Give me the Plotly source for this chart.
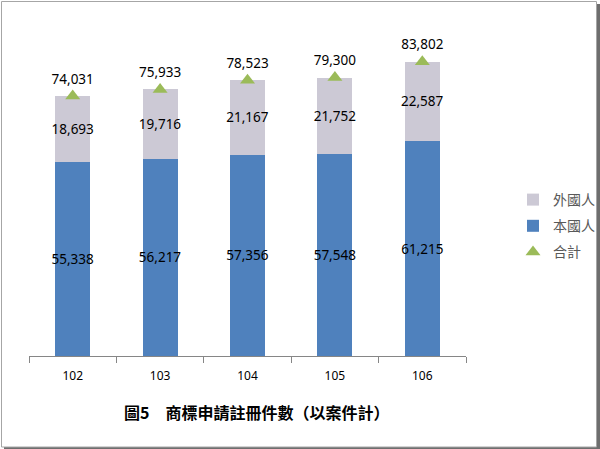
import plotly.graph_objects as go

years = ["102", "103", "104", "105", "106"]
domestic = [55338, 56217, 57356, 57548, 61215]
foreign = [18693, 19716, 21167, 21752, 22587]
total = [74031, 75933, 78523, 79300, 83802]

BLUE = "#4F81BD"
GRAY = "#CCC9D5"
GREEN = "#9BBB59"
NUMFONT = dict(family="Noto Sans, Open Sans, sans-serif", size=13.5, color="#000000")
CJK = "Noto Sans CJK TC, Noto Sans CJK SC, sans-serif"

# plot area in pixels
L, R, T, B = 29, 466, 40, 356
W, H = R - L, B - T


def px(xp):
    return (xp - L) / W


def py(yp):
    return (B - yp) / H


fig = go.Figure()
fig.add_trace(go.Bar(
    x=years, y=domestic, name="本國人", marker=dict(color=BLUE, line=dict(width=0)),
    text=domestic, texttemplate="%{y:,.0f}", textposition="inside",
    insidetextanchor="middle", textfont=NUMFONT, textangle=0, constraintext="none",
    legendrank=2, legendgroup="b",
))
fig.add_trace(go.Bar(
    x=years, y=foreign, name="外國人", marker=dict(color=GRAY, line=dict(width=0)),
    text=foreign, texttemplate="%{y:,.0f}", textposition="inside",
    insidetextanchor="middle", textfont=NUMFONT, textangle=0, constraintext="none",
    legendrank=1, legendgroup="a",
))
fig.add_trace(go.Scatter(
    x=years, y=total, name="合計", mode="markers+text",
    marker=dict(symbol="triangle-up", color=GREEN, size=13),
    text=[f"{v:,}" for v in total], textposition="top center",
    textfont=NUMFONT, legendrank=3, legendgroup="c", cliponaxis=False,
))

shapes = [
    # shadow
    dict(type="rect", xref="paper", yref="paper", layer="below",
         x0=px(4), x1=px(600), y0=py(449), y1=py(4),
         fillcolor="#6E6E6E", line=dict(width=0)),
    # chart frame
    dict(type="rect", xref="paper", yref="paper", layer="below",
         x0=px(1.5), x1=px(596.5), y0=py(447), y1=py(1.5),
         fillcolor="#FFFFFF", line=dict(color="#A6A6A6", width=1)),
]

fig.update_layout(
    width=600, height=449,
    margin=dict(l=L, r=600 - R, t=T, b=449 - B, autoexpand=False),
    paper_bgcolor="#FFFFFF", plot_bgcolor="rgba(0,0,0,0)",
    barmode="stack", bargap=0.6,
    showlegend=True,
    legend=dict(
        xref="container", yref="container",
        x=513 / 600, y=1 - 184 / 449, xanchor="left", yanchor="top",
        font=dict(family=CJK, size=14, color="#595959"),
        tracegroupgap=5, itemwidth=30, bgcolor="rgba(0,0,0,0)",
    ),
    xaxis=dict(
        type="category", showline=True, linecolor="#868686", linewidth=1,
        ticks="outside", tickson="boundaries", ticklen=6, tickcolor="#868686",
        tickfont=dict(family="Noto Sans, sans-serif", size=12, color="#000000"),
        ticklabelstandoff=9,
        showgrid=False, zeroline=False,
    ),
    yaxis=dict(range=[0, 90000], visible=False, showgrid=False, zeroline=False),
    shapes=shapes,
    annotations=[dict(
        text="<b>圖5　商標申請註冊件數（以案件計）</b>",
        xref="paper", yref="paper", x=px(256), y=py(412),
        xanchor="center", yanchor="middle", showarrow=False,
        font=dict(family=CJK, size=16, color="#000000"),
    )],
)

fig.write_html("out.html")
